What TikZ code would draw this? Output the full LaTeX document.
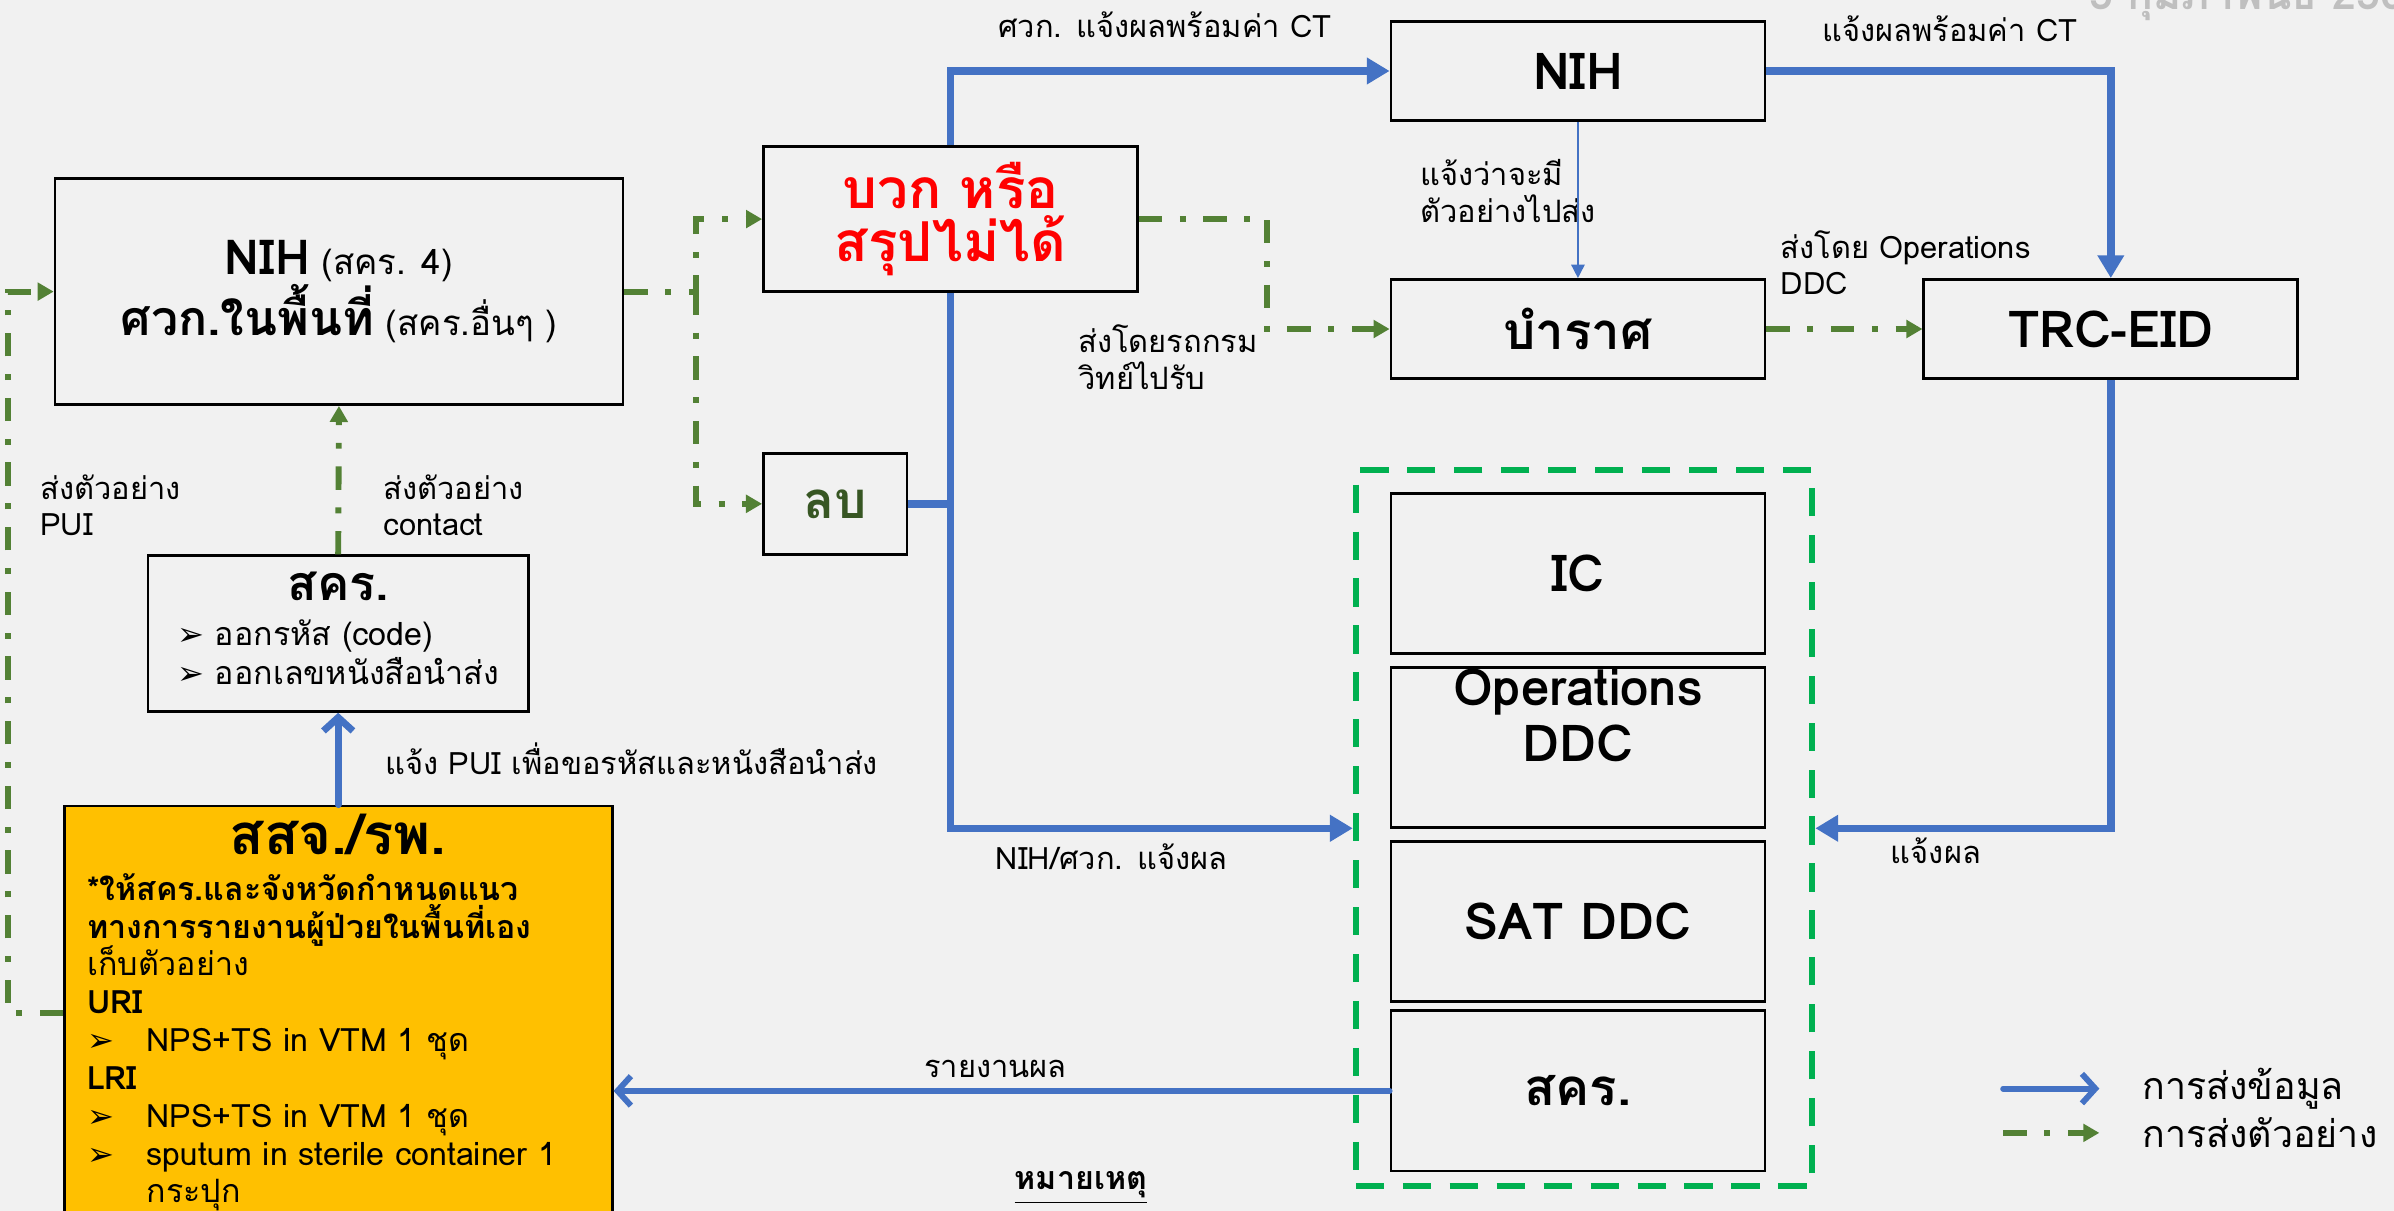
\documentclass[tikz,border=0pt]{standalone}
\usepackage{fontspec}
\setmainfont{Loma}[Script=Thai]
\newfontfamily\dejavu{DejaVu Sans}
\usetikzlibrary{arrows.meta}

\definecolor{bgc}{HTML}{F1F1F1}
\definecolor{infoblue}{HTML}{4472C4}
\definecolor{samplegreen}{HTML}{538135}
\definecolor{contgreen}{HTML}{00B050}
\definecolor{neggreen}{HTML}{375623}
\definecolor{yellowc}{HTML}{FFC000}
\newcommand{\pointer}{{\dejavu\fontsize{12}{12}\selectfont ➢}}

\begin{document}
\begin{tikzpicture}[x=0.02cm, y=-0.02cm,
    box/.style = {draw, line width=1pt, fill=bgc, inner sep=1pt, align=center, minimum width=4.9cm, minimum height=1.3cm, font=\fontsize{19}{21}\selectfont\bfseries},
    lbl/.style = {font=\fontsize{11.5}{13.6}\selectfont, align=left, inner sep=0pt},
    info/.style = {draw=infoblue, line width=2.8pt, -{Triangle[length=8.5pt, width=9.5pt]}},
    report/.style = {draw=infoblue, line width=2.2pt, line cap=round, -{Straight Barb[length=5pt, width=11pt]}},
    sample/.style = {draw=samplegreen, line width=2.2pt, dash pattern=on 8.7pt off 6.6pt on 2.2pt off 6.6pt, -{Triangle[length=6pt, width=6.5pt]}}]

    \fill [bgc] (0,0) rectangle (1568,793);
    \useasboundingbox (0,0) rectangle (1568,793);

    \node (nihl) [box, minimum width=7.44cm, minimum height=2.96cm, font=\fontsize{13}{19}\selectfont] at (222,191) {{\fontsize{18}{19}\selectfont\bfseries NIH} (สคร. 4)\\{\fontsize{18}{19}\selectfont\bfseries ศวก.ในพื้นที่} (สคร.อื่นๆ )};
    \node (pos) [box, text=red, minimum height=1.9cm, font=\fontsize{20.5}{20}\selectfont\bfseries] at (622.5,143.5) {บวก หรือ\\สรุปไม่ได้};
    \node (neg) [box, text=neggreen, minimum width=1.88cm, minimum height=1.32cm] at (547,330) {ลบ};
    \node (niht) [box] at (1033.5,46.5) {NIH};
    \node (bamrat) [box] at (1033.5,215.5) {บำราศ};
    \node (trc) [box] at (1382.5,215.5) {TRC-EID};
    \node (skl) [box, minimum width=4.98cm, minimum height=2.04cm, font=\fontsize{12}{14}\selectfont] at (221.5,415) {{\fontsize{18}{20}\selectfont\bfseries สคร.}\\[3pt]
        \begin{tabular}[t]{@{}l@{}}\pointer\ ออกรหัส (code)\\[0pt] \pointer\ ออกเลขหนังสือนำส่ง\end{tabular}};
    \node (sasoj) [draw, line width=1pt, fill=yellowc, anchor=north, text width=6.58cm, inner xsep=0.3cm, inner ysep=3pt, font=\fontsize{12}{14.1}\selectfont] at (221.5,527) {\centering{\fontsize{21}{24}\selectfont\bfseries สสจ./รพ.}\par\vspace{3pt}
        \raggedright\bfseries *ให้สคร.และจังหวัดกำหนดแนว\\ทางการรายงานผู้ป่วยในพื้นที่เอง\par
        \mdseries เก็บตัวอย่าง\\
        {\bfseries URI}\\
        \makebox[0.78cm][l]{\pointer}NPS+TS in VTM 1 ชุด\\
        {\bfseries LRI}\\
        \makebox[0.78cm][l]{\pointer}NPS+TS in VTM 1 ชุด\\
        \makebox[0.78cm][l]{\pointer}sputum in sterile container 1\\
        \hspace*{0.78cm}กระปุก\par};

    \node (cont) [draw=contgreen, line width=2.3pt, dash pattern=on 10.5pt off 7pt, minimum width=5.98cm, minimum height=9.38cm] at (1037.5,542.5) {};
    \foreach \boxid / \ypos / \boxtext in {ic/375.5/IC, ops/489.5/{\raisebox{5pt}[0pt][0pt]{\begin{tabular}{@{}c@{}}Operations\\DDC\end{tabular}}}, sat/603.5/SAT DDC, skr/714.5/สคร.}
        \node (\boxid) [box, minimum height=2.1cm] at (1033.5,\ypos) {\boxtext};

    \node (t1) [lbl, align=center] at (763,16) {ศวก. แจ้งผลพร้อมค่า CT};
    \node (t2) [lbl, align=center] at (1277,19) {แจ้งผลพร้อมค่า CT};
    \node (t3) [lbl, anchor=west] at (930,125) {แจ้งว่าจะมี\\ตัวอย่างไปส่ง};
    \node (t4) [lbl, anchor=west] at (706,234) {ส่งโดยรถกรม\\วิทย์ไปรับ};
    \node (t5) [lbl, anchor=west] at (1166,172) {ส่งโดย Operations\\DDC};
    \node (t6) [lbl] at (728,561) {NIH/ศวก. แจ้งผล};
    \node (t7) [lbl] at (1268,557) {แจ้งผล};
    \node (t8) [lbl] at (652,700) {รายงานผล};
    \node (t9) [lbl, anchor=west] at (252,497) {แจ้ง PUI เพื่อขอรหัสและหนังสือนำส่ง};
    \node (t10) [lbl, anchor=west] at (251,331) {ส่งตัวอย่าง\\contact};
    \node (t11) [lbl, anchor=west] at (26,331) {ส่งตัวอย่าง\\PUI};
    \node (note) [lbl, font=\fontsize{12}{14}\selectfont\bfseries] at (708,778) {\underline{หมายเหตุ}};
    \node (date) [anchor=base west, inner sep=0pt, text=black!25, font=\fontsize{16}{16}\selectfont\bfseries] at (1368,6) {5 กุมภาพันธ์ 2563};

    \draw [info] (pos.north) |- (niht.west);
    \draw [info] (niht.east) -| (trc.north);
    \draw [draw=infoblue, line width=0.6pt, -{Triangle[length=5pt, width=5pt]}] (niht.south) -- (bamrat.north);
    \draw [info] (pos.south) |- (cont.west);
    \draw [info, -] (neg.east) -- (neg.east -| pos.south);
    \draw [info] (trc.south) |- (cont.east);
    \draw [report] (skr.west) -- (skr.west -| sasoj.east);
    \draw [report, line width=2.6pt] (sasoj.north) -- (skl.south);

    \draw [sample] (pos.east) -- ++(84,0) |- (bamrat.west);
    \draw [sample] (bamrat.east) -- (trc.west);
    \draw [sample] (skl.north) -- (nihl.south);
    \draw [sample] (nihl.east) -- ++(47,0) coordinate (fork) |- (pos.west);
    \draw [sample] (fork) |- (neg.west);
    \draw [sample] (sasoj.west) -- ++(-36,0) |- (nihl.west);

    \coordinate (lga) at (1312,713);
    \coordinate (lgb) at (1375,713);
    \coordinate (lgc) at (1312,742);
    \coordinate (lgd) at (1375,742);
    \draw [report] (lga) -- (lgb);
    \draw [sample] (lgc) -- (lgd);
    \node (lgt1) [lbl, anchor=west, font=\fontsize{14}{16}\selectfont] at (1403,713) {การส่งข้อมูล};
    \node (lgt2) [lbl, anchor=west, font=\fontsize{14}{16}\selectfont] at (1403,742) {การส่งตัวอย่าง};

\end{tikzpicture}
\end{document}
